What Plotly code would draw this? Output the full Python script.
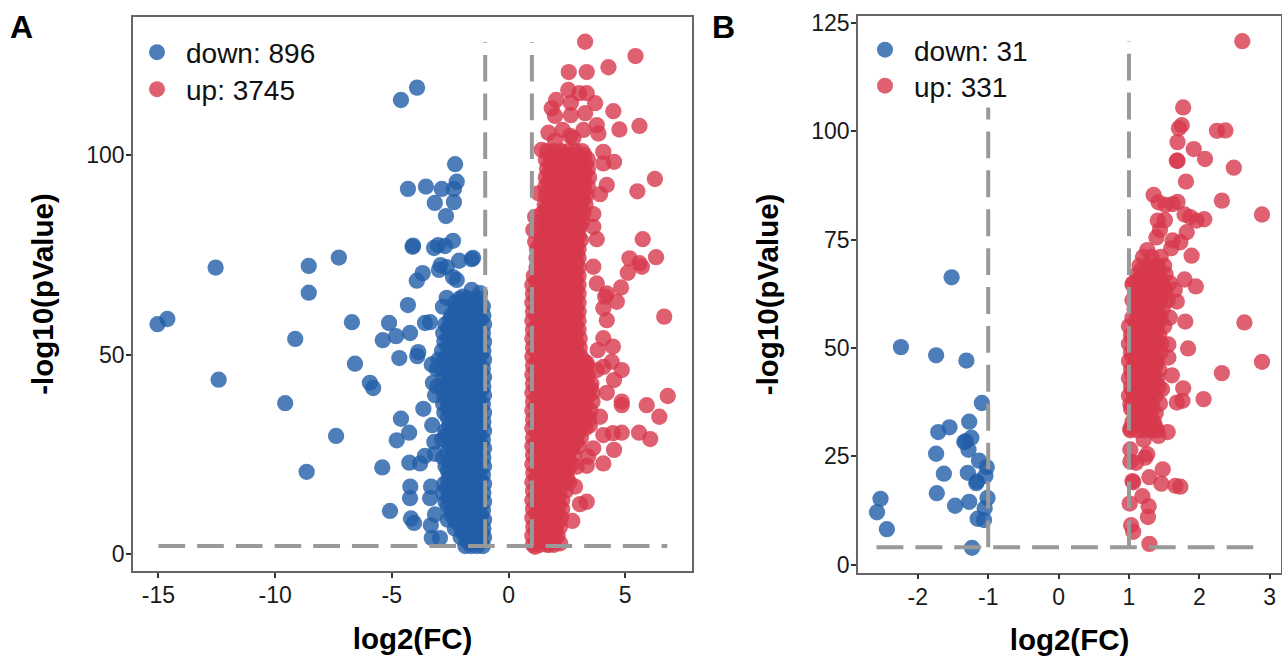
import plotly.graph_objects as go

# ---------- Panel A: scattered points ----------
a_down_x = [-3.92,-4.61,-2.29,-2.22,-4.31,-3.54,-2.86,-2.34,-3.16,-2.34,-2.68,-4.09,-4.11,-3.02,-2.38,-3.19,-2.72,-2.12,-1.58,-1.52,
            -2.91,-2.65,-2.98,-2.38,-2.22,-3.68,-3.93,-8.56,-7.27,-12.55,-8.56,-4.31,-15.04,-14.62,-6.71,-5.12,-1.58,-1.22,-2.65,-1.95,
            -2.81,-4.22,-3.58,-3.36,-9.14,-12.42,-9.57,-7.39,-8.65,-6.58,-5.94,-5.80,-5.39,-4.82,-4.68,-3.87,-3.91,-3.65,-4.61,-4.26,
            -4.79,-5.41,-4.25,-3.79,-3.58,-4.21,-4.22,-5.08,-4.18,-4.05,-3.27,-3.18,-3.32,-3.36,-3.33,-3.29,-2.94,-3.15,-3.15,-3.24,
            -3.29,-3.08,-3.15]
a_down_y = [116.9,113.8,97.7,93.3,91.5,92.1,91.5,91.5,88.0,88.2,84.7,77.3,77.0,77.4,78.5,76.7,77.2,73.5,73.9,74.2,
            72.4,71.9,71.2,69.4,68.7,70.4,68.5,72.2,74.3,71.8,65.5,62.4,57.6,58.9,58.1,57.9,66.2,65.4,64.2,64.5,
            62.0,55.4,57.9,58.1,53.9,43.7,37.8,29.6,20.6,47.7,42.9,41.6,53.6,54.6,49.1,50.6,49.6,36.4,33.9,30.4,
            28.5,21.7,22.9,22.7,24.6,16.9,14.0,10.8,8.9,7.8,32.3,28.1,16.9,14.0,7.2,4.0,4.0,9.9,39.8,42.9,
            47.5,46.4,25.1]

# Panel A: dense block of down genes, one list of log2FC per pValue row
a_down_dense_y = [2.0,4.2,6.4,8.6,10.9,13.1,15.3,17.6,19.8,22.0,24.2,26.5,28.7,30.9,33.1,35.4,37.6,39.8,42.0,44.3,46.5,48.7,50.9,53.2,55.4,57.6,59.8,62.1,64.0,
                  3.1,5.3,7.5,9.8,12.0,14.2,16.4,18.7,20.9,23.1,25.3,27.6,29.8,32.0,34.2,36.5,38.7,40.9,43.1,45.4,47.6,49.8,52.0,54.3,56.5,58.7,60.9,63.0]
a_down_dense_x = [
    [-1.10,-1.35,-1.60,-1.85],
    [-1.05,-1.30,-1.55,-1.80,-2.05],
    [-1.08,-1.40,-1.70,-2.00,-2.30],
    [-1.05,-1.35,-1.65,-1.95,-2.30,-2.60],
    [-1.10,-1.40,-1.75,-2.10,-2.45],
    [-1.05,-1.35,-1.70,-2.05,-2.40,-2.70],
    [-1.08,-1.40,-1.75,-2.10,-2.50,-2.80],
    [-1.05,-1.35,-1.70,-2.05,-2.40,-2.75],
    [-1.10,-1.45,-1.80,-2.15,-2.50],
    [-1.05,-1.35,-1.70,-2.05,-2.40,-2.70],
    [-1.08,-1.40,-1.75,-2.10,-2.45,-2.80],
    [-1.05,-1.35,-1.70,-2.05,-2.40],
    [-1.10,-1.45,-1.80,-2.15,-2.50,-2.85],
    [-1.05,-1.35,-1.70,-2.05,-2.40,-2.70],
    [-1.08,-1.40,-1.75,-2.10,-2.45],
    [-1.05,-1.35,-1.70,-2.05,-2.40,-2.75],
    [-1.10,-1.45,-1.80,-2.15,-2.50,-2.80],
    [-1.05,-1.35,-1.70,-2.05,-2.40,-2.75],
    [-1.08,-1.40,-1.75,-2.10,-2.45,-2.85,-3.05],
    [-1.05,-1.35,-1.70,-2.05,-2.40,-2.75],
    [-1.10,-1.45,-1.80,-2.15,-2.50,-2.90],
    [-1.05,-1.35,-1.70,-2.05,-2.40,-2.75,-3.00],
    [-1.08,-1.40,-1.75,-2.10,-2.45,-2.85],
    [-1.05,-1.35,-1.70,-2.05,-2.40,-2.75],
    [-1.10,-1.45,-1.80,-2.15,-2.50,-2.80],
    [-1.05,-1.35,-1.70,-2.05,-2.40,-2.70],
    [-1.08,-1.40,-1.75,-2.10,-2.45],
    [-1.10,-1.45,-1.80,-2.15],
    [-1.25,-1.70,-2.10],
    [-1.20,-1.50,-1.75],
    [-1.15,-1.45,-1.70,-1.95],
    [-1.22,-1.55,-1.85,-2.15],
    [-1.18,-1.50,-1.80,-2.15,-2.45],
    [-1.25,-1.58,-1.92,-2.25,-2.60],
    [-1.20,-1.52,-1.88,-2.22,-2.55],
    [-1.25,-1.60,-1.95,-2.30,-2.65],
    [-1.20,-1.52,-1.88,-2.22,-2.58],
    [-1.28,-1.62,-1.98,-2.32,-2.60],
    [-1.20,-1.52,-1.88,-2.22,-2.55],
    [-1.25,-1.58,-1.92,-2.28,-2.62],
    [-1.20,-1.52,-1.88,-2.22,-2.55],
    [-1.28,-1.62,-1.98,-2.32,-2.68],
    [-1.20,-1.52,-1.88,-2.22,-2.55],
    [-1.25,-1.58,-1.92,-2.28,-2.60],
    [-1.20,-1.52,-1.88,-2.22,-2.58],
    [-1.28,-1.62,-1.98,-2.32,-2.65],
    [-1.20,-1.52,-1.88,-2.22,-2.60],
    [-1.25,-1.58,-1.92,-2.28,-2.62],
    [-1.20,-1.52,-1.88,-2.22,-2.58],
    [-1.28,-1.62,-1.98,-2.32,-2.70],
    [-1.20,-1.52,-1.88,-2.22,-2.60],
    [-1.25,-1.58,-1.92,-2.28,-2.62],
    [-1.20,-1.52,-1.88,-2.22,-2.58],
    [-1.28,-1.62,-1.98,-2.32,-2.60],
    [-1.20,-1.52,-1.88,-2.22,-2.50],
    [-1.25,-1.58,-1.92,-2.28],
    [-1.30,-1.65,-1.98,-2.30],
]

a_up_x = [3.28,5.44,4.28,2.58,3.35,2.56,3.03,3.35,2.04,3.71,2.67,1.85,3.28,1.99,2.67,4.49,5.61,4.75,3.78,3.85,
          1.71,2.32,2.64,3.21,1.99,2.78,4.06,4.52,4.06,1.42,4.21,3.92,5.52,6.27,1.28,3.63,3.63,3.78,1.14,1.06,
          1.14,5.75,5.18,5.61,6.32,5.71,5.11,4.82,4.21,4.64,4.14,3.63,3.78,6.67,4.21,4.06,4.06,4.47,3.82,4.42,
          4.85,4.52,4.21,4.85,4.85,5.92,6.82,6.46,5.59,6.07,4.85,4.47,4.06,4.52,4.06,3.35,3.92,3.49,3.63,2.85,
          3.35,3.06,2.73,2.21,1.75,1.14,3.78,4.06,3.35,3.41,2.92]
a_up_y = [128.4,124.8,122.0,120.8,120.8,116.3,115.5,115.5,113.8,113.0,113.1,111.7,110.5,109.8,110.0,111.0,107.3,106.4,107.5,105.4,
          105.6,106.3,104.8,106.3,103.6,104.3,100.8,98.3,97.9,101.3,92.5,90.2,90.9,94.0,90.4,85.2,82.0,78.9,84.5,81.2,
          78.3,78.9,74.1,72.9,74.4,72.0,70.5,66.8,65.3,63.2,64.5,72.0,67.8,59.5,58.6,61.6,54.1,52.0,51.1,48.2,
          46.1,43.6,40.4,38.2,37.3,37.3,39.6,34.4,30.4,28.8,30.4,30.3,29.8,26.1,22.7,22.1,34.4,32.3,26.5,16.9,
          13.1,12.5,8.3,2.7,2.3,1.8,46.1,46.9,47.9,24.4,21.9]

# Panel A: dense block of up genes
a_up_dense_y = [2.3,4.6,6.8,9.1,11.3,13.5,15.8,18.0,20.3,22.5,24.8,27.0,29.2,31.5,33.7,36.0,38.2,40.5,42.7,45.0,47.2,49.5,51.7,54.0,
                56.2,58.5,60.7,63.0,65.2,67.4,69.7,71.9,74.2,76.4,78.7,80.9,83.2,85.4,87.6,89.9,92.1,94.4,96.6,98.9,101.0,
                3.4,5.7,8.0,10.2,12.4,14.6,16.9,19.1,21.4,23.6,25.9,28.1,30.3,32.6,34.8,37.1,39.3,41.6,43.8,46.1,48.3,50.6,52.8,55.1,
                57.3,59.6,61.8,64.1,66.3,68.5,70.8,73.0,75.3,77.5,79.8,82.0,84.3,86.5,88.7,91.0,93.2,95.5,97.7,100.0]
a_up_dense_x = [
    [1.05,1.35,1.65,1.95],
    [1.02,1.30,1.60,1.90,2.10],
    [1.06,1.38,1.70,2.00,2.20],
    [1.02,1.32,1.65,1.95,2.25],
    [1.05,1.40,1.72,2.02,2.30],
    [1.02,1.34,1.66,1.98,2.30],
    [1.05,1.40,1.75,2.10,2.45],
    [1.02,1.34,1.68,2.02,2.36,2.60],
    [1.06,1.40,1.75,2.10,2.45],
    [1.02,1.36,1.70,2.04,2.38,2.70],
    [1.05,1.40,1.75,2.10,2.45,2.80],
    [1.02,1.36,1.70,2.04,2.40,2.75,3.00],
    [1.05,1.40,1.75,2.10,2.45,2.80,3.10],
    [1.02,1.36,1.70,2.04,2.38,2.72,3.06,3.30],
    [1.05,1.40,1.75,2.10,2.45,2.80,3.15,3.45],
    [1.02,1.36,1.70,2.04,2.38,2.72,3.06,3.50],
    [1.05,1.40,1.75,2.10,2.45,2.80,3.15,3.60],
    [1.02,1.36,1.70,2.04,2.38,2.72,3.06,3.40,3.60],
    [1.05,1.40,1.75,2.10,2.45,2.80,3.15,3.55],
    [1.02,1.36,1.70,2.04,2.38,2.72,3.06,3.40],
    [1.05,1.40,1.75,2.10,2.45,2.80,3.15,3.35],
    [1.02,1.36,1.70,2.04,2.38,2.72,3.10],
    [1.05,1.40,1.75,2.10,2.45,2.80,3.05],
    [1.02,1.36,1.70,2.04,2.38,2.72,3.05],
    [1.05,1.40,1.75,2.10,2.45,2.80,3.00],
    [1.02,1.36,1.70,2.04,2.38,2.72,3.00],
    [1.05,1.40,1.75,2.10,2.45,2.80,3.00],
    [1.02,1.36,1.70,2.04,2.38,2.72,3.00],
    [1.05,1.40,1.75,2.10,2.45,2.80,3.00],
    [1.02,1.36,1.70,2.04,2.38,2.72,3.00],
    [1.08,1.42,1.75,2.10,2.45,2.80,3.00],
    [1.20,1.50,1.80,2.12,2.45,2.78,3.00],
    [1.20,1.52,1.85,2.18,2.50,2.82,3.00],
    [1.22,1.55,1.88,2.20,2.52,2.85,3.00],
    [1.40,1.70,2.00,2.30,2.60,2.90,3.10],
    [1.42,1.72,2.05,2.35,2.65,2.95],
    [1.40,1.70,2.02,2.32,2.62,2.92,3.15],
    [1.45,1.75,2.05,2.35,2.65,2.95,3.20],
    [1.55,1.85,2.15,2.45,2.75,3.05,3.30],
    [1.60,1.90,2.20,2.50,2.80,3.10,3.35],
    [1.58,1.88,2.18,2.48,2.78,3.08,3.40],
    [1.60,1.90,2.20,2.50,2.80,3.10,3.45],
    [1.65,1.95,2.25,2.55,2.85,3.15,3.40],
    [1.60,1.90,2.20,2.50,2.80,3.10,3.40],
    [1.65,1.95,2.25,2.55,2.85,3.15],
    # staggered rows between the ones above
    [1.20,1.50,1.80],
    [1.16,1.45,1.75,2.02],
    [1.22,1.54,1.85,2.12],
    [1.18,1.48,1.80,2.10],
    [1.22,1.56,1.87,2.16],
    [1.18,1.50,1.82,2.14],
    [1.22,1.58,1.92,2.28],
    [1.18,1.51,1.85,2.19,2.50],
    [1.23,1.58,1.92,2.28,2.55],
    [1.19,1.53,1.87,2.21,2.55],
    [1.22,1.58,1.92,2.28,2.62],
    [1.19,1.53,1.87,2.22,2.58,2.90],
    [1.22,1.58,1.92,2.28,2.62,2.98],
    [1.19,1.53,1.87,2.21,2.55,2.89,3.20],
    [1.22,1.58,1.92,2.28,2.62,2.98,3.32],
    [1.19,1.53,1.87,2.21,2.55,2.89,3.28],
    [1.22,1.58,1.92,2.28,2.62,2.98,3.38],
    [1.19,1.53,1.87,2.21,2.55,2.89,3.23,3.50],
    [1.22,1.58,1.92,2.28,2.62,2.98,3.35],
    [1.19,1.53,1.87,2.21,2.55,2.89,3.23],
    [1.22,1.58,1.92,2.28,2.62,2.98,3.25],
    [1.19,1.53,1.87,2.21,2.55,2.90],
    [1.22,1.58,1.92,2.28,2.62,2.92],
    [1.19,1.53,1.87,2.21,2.55,2.88],
    [1.22,1.58,1.92,2.28,2.62,2.90],
    [1.19,1.53,1.87,2.21,2.55,2.88],
    [1.22,1.58,1.92,2.28,2.62,2.90],
    [1.19,1.53,1.87,2.21,2.55,2.88],
    [1.22,1.58,1.92,2.28,2.62,2.90],
    [1.19,1.53,1.87,2.21,2.55,2.88],
    [1.26,1.60,1.92,2.28,2.62,2.90],
    [1.34,1.65,1.96,2.30,2.62,2.90],
    [1.36,1.68,2.02,2.34,2.66,2.92],
    [1.38,1.72,2.04,2.36,2.68,2.92],
    [1.55,1.85,2.15,2.45,2.75,3.00],
    [1.56,1.88,2.20,2.50,2.80,3.05],
    [1.55,1.86,2.18,2.48,2.78,3.05],
    [1.60,1.90,2.20,2.50,2.80,3.10],
    [1.70,2.00,2.30,2.60,2.90,3.20],
    [1.75,2.05,2.35,2.65,2.95,3.25],
    [1.72,2.02,2.32,2.62,2.92,3.25],
    [1.75,2.05,2.35,2.65,2.95,3.28],
    [1.78,2.10,2.40,2.70,3.00,3.30],
    [1.75,2.05,2.35,2.65,2.95,3.25],
]

# ---------- Panel B ----------
b_down_x = [-1.52,-2.24,-1.74,-1.31,-1.09,-1.27,-1.55,-1.71,-1.24,-1.32,-1.34,-1.28,-1.74,-1.13,-1.02,-1.29,-1.63,-1.04,-1.16,-1.17,
            -1.73,-1.01,-2.53,-1.27,-1.47,-1.05,-2.58,-1.15,-1.06,-2.44,-1.23]
b_down_y = [66.3,50.2,48.3,47.1,37.3,33.0,31.7,30.6,29.3,28.5,28.3,26.5,25.6,24.0,22.5,21.2,21.0,20.5,19.2,18.8,
            16.5,15.4,15.2,14.5,13.6,13.0,12.1,10.6,10.3,8.2,3.9]

b_up_x = [2.61,1.77,1.75,1.71,2.25,2.37,1.69,1.92,2.08,1.69,1.68,2.49,1.81,1.35,2.32,1.69,1.42,1.52,1.62,2.89,
          1.79,1.87,1.96,2.07,1.41,1.51,1.44,1.82,1.39,1.62,1.73,1.60,1.89,1.26,1.79,1.95,1.05,1.68,1.80,2.64,
          1.65,1.84,2.89,2.32,1.61,1.56,1.56,1.77,2.06,1.76,1.68,1.44,1.47,1.55,1.42,1.26,1.23,1.05,1.06,1.48,
          1.29,1.46,1.66,1.73,1.19,1.28,1.01,1.27,1.03,1.06,1.29,1.02,1.02,1.10,1.21,1.02]
b_up_y = [120.8,105.5,101.4,100.7,100.1,100.2,97.5,95.9,93.6,93.2,93.2,91.6,88.4,85.3,84.0,83.7,83.6,83.0,83.2,80.8,
          80.8,80.2,79.4,79.7,79.4,79.5,77.2,76.7,75.5,74.8,74.4,73.0,71.3,72.6,65.8,64.2,64.6,60.7,56.1,55.9,
          63.4,49.9,46.8,44.2,43.7,47.8,50.8,40.7,38.2,37.8,37.4,37.2,40.5,30.6,29.7,25.5,24.7,19.3,19.0,22.0,
          20.2,18.7,18.2,18.0,15.8,13.5,14.1,11.0,9.1,7.6,4.8,26.6,23.8,23.5,28.8,31.4]

b_up_dense_y = [31.0,33.0,35.0,37.0,39.0,41.0,43.0,45.0,47.0,49.0,51.0,53.0,55.0,57.0,59.0,61.0,63.0,65.0,67.0,69.0,71.0,
                32.0,34.0,36.0,38.0,40.0,42.0,44.0,46.0,48.0,50.0,52.0,54.0,56.0,58.0,60.0,62.0,64.0,66.0,68.0]
b_up_dense_x = [
    [1.02,1.12,1.22,1.32,1.40],
    [1.05,1.15,1.25,1.35],
    [1.08,1.18,1.28,1.38],
    [1.02,1.12,1.22,1.32],
    [1.00,1.10,1.20,1.30,1.38],
    [1.03,1.13,1.23,1.33,1.42],
    [1.00,1.10,1.20,1.30,1.40],
    [1.03,1.13,1.23,1.33,1.43],
    [1.00,1.10,1.20,1.30,1.40],
    [1.03,1.13,1.23,1.33,1.45],
    [1.00,1.10,1.20,1.30,1.40,1.46],
    [1.03,1.13,1.23,1.33,1.43],
    [1.00,1.10,1.20,1.30,1.40,1.50],
    [1.05,1.15,1.25,1.35,1.45,1.58],
    [1.08,1.18,1.28,1.38,1.48],
    [1.05,1.15,1.25,1.35,1.45,1.55],
    [1.10,1.20,1.30,1.40,1.52],
    [1.06,1.16,1.26,1.36,1.46,1.58],
    [1.12,1.22,1.32,1.42,1.52],
    [1.15,1.28,1.40,1.50],
    [1.20,1.32,1.45],
    [1.07,1.17,1.27,1.37],
    [1.10,1.20,1.30],
    [1.03,1.13,1.23,1.33],
    [1.07,1.17,1.27],
    [1.05,1.15,1.25,1.35],
    [1.08,1.18,1.28,1.38],
    [1.05,1.15,1.25,1.35],
    [1.08,1.18,1.28,1.38],
    [1.05,1.15,1.25,1.35],
    [1.08,1.18,1.28,1.38],
    [1.05,1.15,1.25,1.35],
    [1.08,1.18,1.28,1.38],
    [1.10,1.20,1.30,1.40],
    [1.12,1.22,1.32,1.42],
    [1.10,1.20,1.30,1.40],
    [1.14,1.25,1.35,1.45],
    [1.10,1.20,1.30,1.40,1.50],
    [1.15,1.25,1.35,1.45],
    [1.18,1.30,1.42],
]

a_x_ticks = [-15, -10, -5, 0, 5]
a_x_labels = ["-15", "-10", "-5", "0", "5"]
a_y_ticks = [0, 50, 100]
b_x_ticks = [-2, -1, 0, 1, 2, 3]
b_x_labels = ["-2", "-1", "0", "1", "2", "3"]
b_y_ticks = [0, 25, 50, 75, 100, 125]

a_cut_fc = [-1, 1]
a_cut_p = 2
b_cut_fc = [-1, 1]
b_cut_p = 4


def flat(rows):
    return [v for row in rows for v in row]


def rep(ys, rows):
    return [y for y, row in zip(ys, rows) for _ in row]


BLUE = "#225EA8"
RED = "#D7384C"
GREY = "#999999"
FONT = "Liberation Sans"
W, H = 1282, 656

fig = go.Figure()


def pts(x, y, color, name, xa, ya, legend):
    fig.add_trace(go.Scatter(
        x=x, y=y, mode="markers", name=name, xaxis=xa, yaxis=ya, legend=legend,
        marker=dict(color=color, size=16.3, opacity=0.8, line=dict(width=0)),
        hoverinfo="x+y",
    ))


pts(a_down_x + flat(a_down_dense_x), a_down_y + rep(a_down_dense_y, a_down_dense_x), BLUE, "down: 896", "x", "y", "legend")
pts(a_up_x + flat(a_up_dense_x), a_up_y + rep(a_up_dense_y, a_up_dense_x), RED, "up: 3745", "x", "y", "legend2")
pts(b_down_x, b_down_y, BLUE, "down: 31", "x2", "y2", "legend3")
pts(b_up_x + flat(b_up_dense_x), b_up_y + rep(b_up_dense_y, b_up_dense_x), RED, "up: 331", "x2", "y2", "legend4")


def axis(domain, rng, ticks, title, anchor, standoff, labels=None, label_shift=0):
    return dict(
        domain=domain, range=rng, tickmode="array", tickvals=ticks,
        ticktext=labels if labels else [str(t) for t in ticks], anchor=anchor,
        automargin=False, ticklabelstandoff=label_shift,
        showgrid=False, zeroline=False, showline=True, mirror=True,
        linecolor="#666666", linewidth=1.5, ticks="outside", ticklen=5, tickwidth=1.5, tickcolor="#333333",
        tickfont=dict(family=FONT, size=23, color="#1a1a1a"),
        title=dict(text=title, font=dict(family=FONT, size=29.5, color="#000000", weight="bold"), standoff=standoff),
    )


def legend(xpx, ypx):
    return dict(
        x=xpx / W, y=1 - ypx / H, xanchor="left", yanchor="top",
        bgcolor="rgba(0,0,0,0)", borderwidth=0, itemwidth=48,
        font=dict(family=FONT, size=28, color="#111111"),
        itemclick=False, itemdoubleclick=False,
    )


fig.update_layout(
    width=W, height=H, margin=dict(l=0, r=0, t=0, b=0), showlegend=True,
    paper_bgcolor="white", plot_bgcolor="white",
    xaxis=axis([133 / W, 692 / W], [-16.09, 7.86], a_x_ticks, "log2(FC)", "y", 21, a_x_labels, -2),
    yaxis=axis([1 - 571 / H, 1 - 17 / H], [-4.26, 134.6], a_y_ticks, "-log10(pValue)", "x", 24, None, -3),
    xaxis2=axis([858 / W, 1281 / W], [-2.85, 3.16], b_x_ticks, "log2(FC)", "y2", 21, b_x_labels, -2),
    yaxis2=axis([1 - 572.7 / H, 1 - 16 / H], [-1.85, 126.6], b_y_ticks, "-log10(pValue)", "x2", 24, None, -3),
    legend=legend(128, 27.5),
    legend2=legend(128, 64.5),
    legend3=legend(856, 25),
    legend4=legend(856, 61),
    annotations=[
        dict(text="<b>A</b>", x=8 / W, y=1 - 26.5 / H, xref="paper", yref="paper", xanchor="left", yanchor="middle",
             showarrow=False, font=dict(family=FONT, size=32, color="#000000")),
        dict(text="<b>B</b>", x=710 / W, y=1 - 26.5 / H, xref="paper", yref="paper", xanchor="left", yanchor="middle",
             showarrow=False, font=dict(family=FONT, size=32, color="#000000")),
    ],
)


def cut(xr, yr, x0, x1, y0, y1, dash):
    fig.add_shape(type="line", xref=xr, yref=yr, x0=x0, x1=x1, y0=y0, y1=y1, layer="above",
                  line=dict(color=GREY, width=4, dash=dash))


cut("x", "y", -15.0, 6.8, a_cut_p, a_cut_p, "26.7px,12px")
cut("x", "y", a_cut_fc[0], a_cut_fc[0], a_cut_p, 128.3, "26.7px,12px")
cut("x", "y", a_cut_fc[1], a_cut_fc[1], a_cut_p, 128.3, "26.7px,12px")
cut("x2", "y2", -2.587, 2.766, b_cut_p, b_cut_p, "26.9px,12px")
cut("x2", "y2", b_cut_fc[0], b_cut_fc[0], b_cut_p, 105.5, "26.9px,12px")
cut("x2", "y2", b_cut_fc[1], b_cut_fc[1], b_cut_p, 120.8, "26.9px,12px")

fig.write_html("out.html", config={"displayModeBar": False},
               post_script="document.body.style.margin='0';document.documentElement.style.overflow='hidden';")
